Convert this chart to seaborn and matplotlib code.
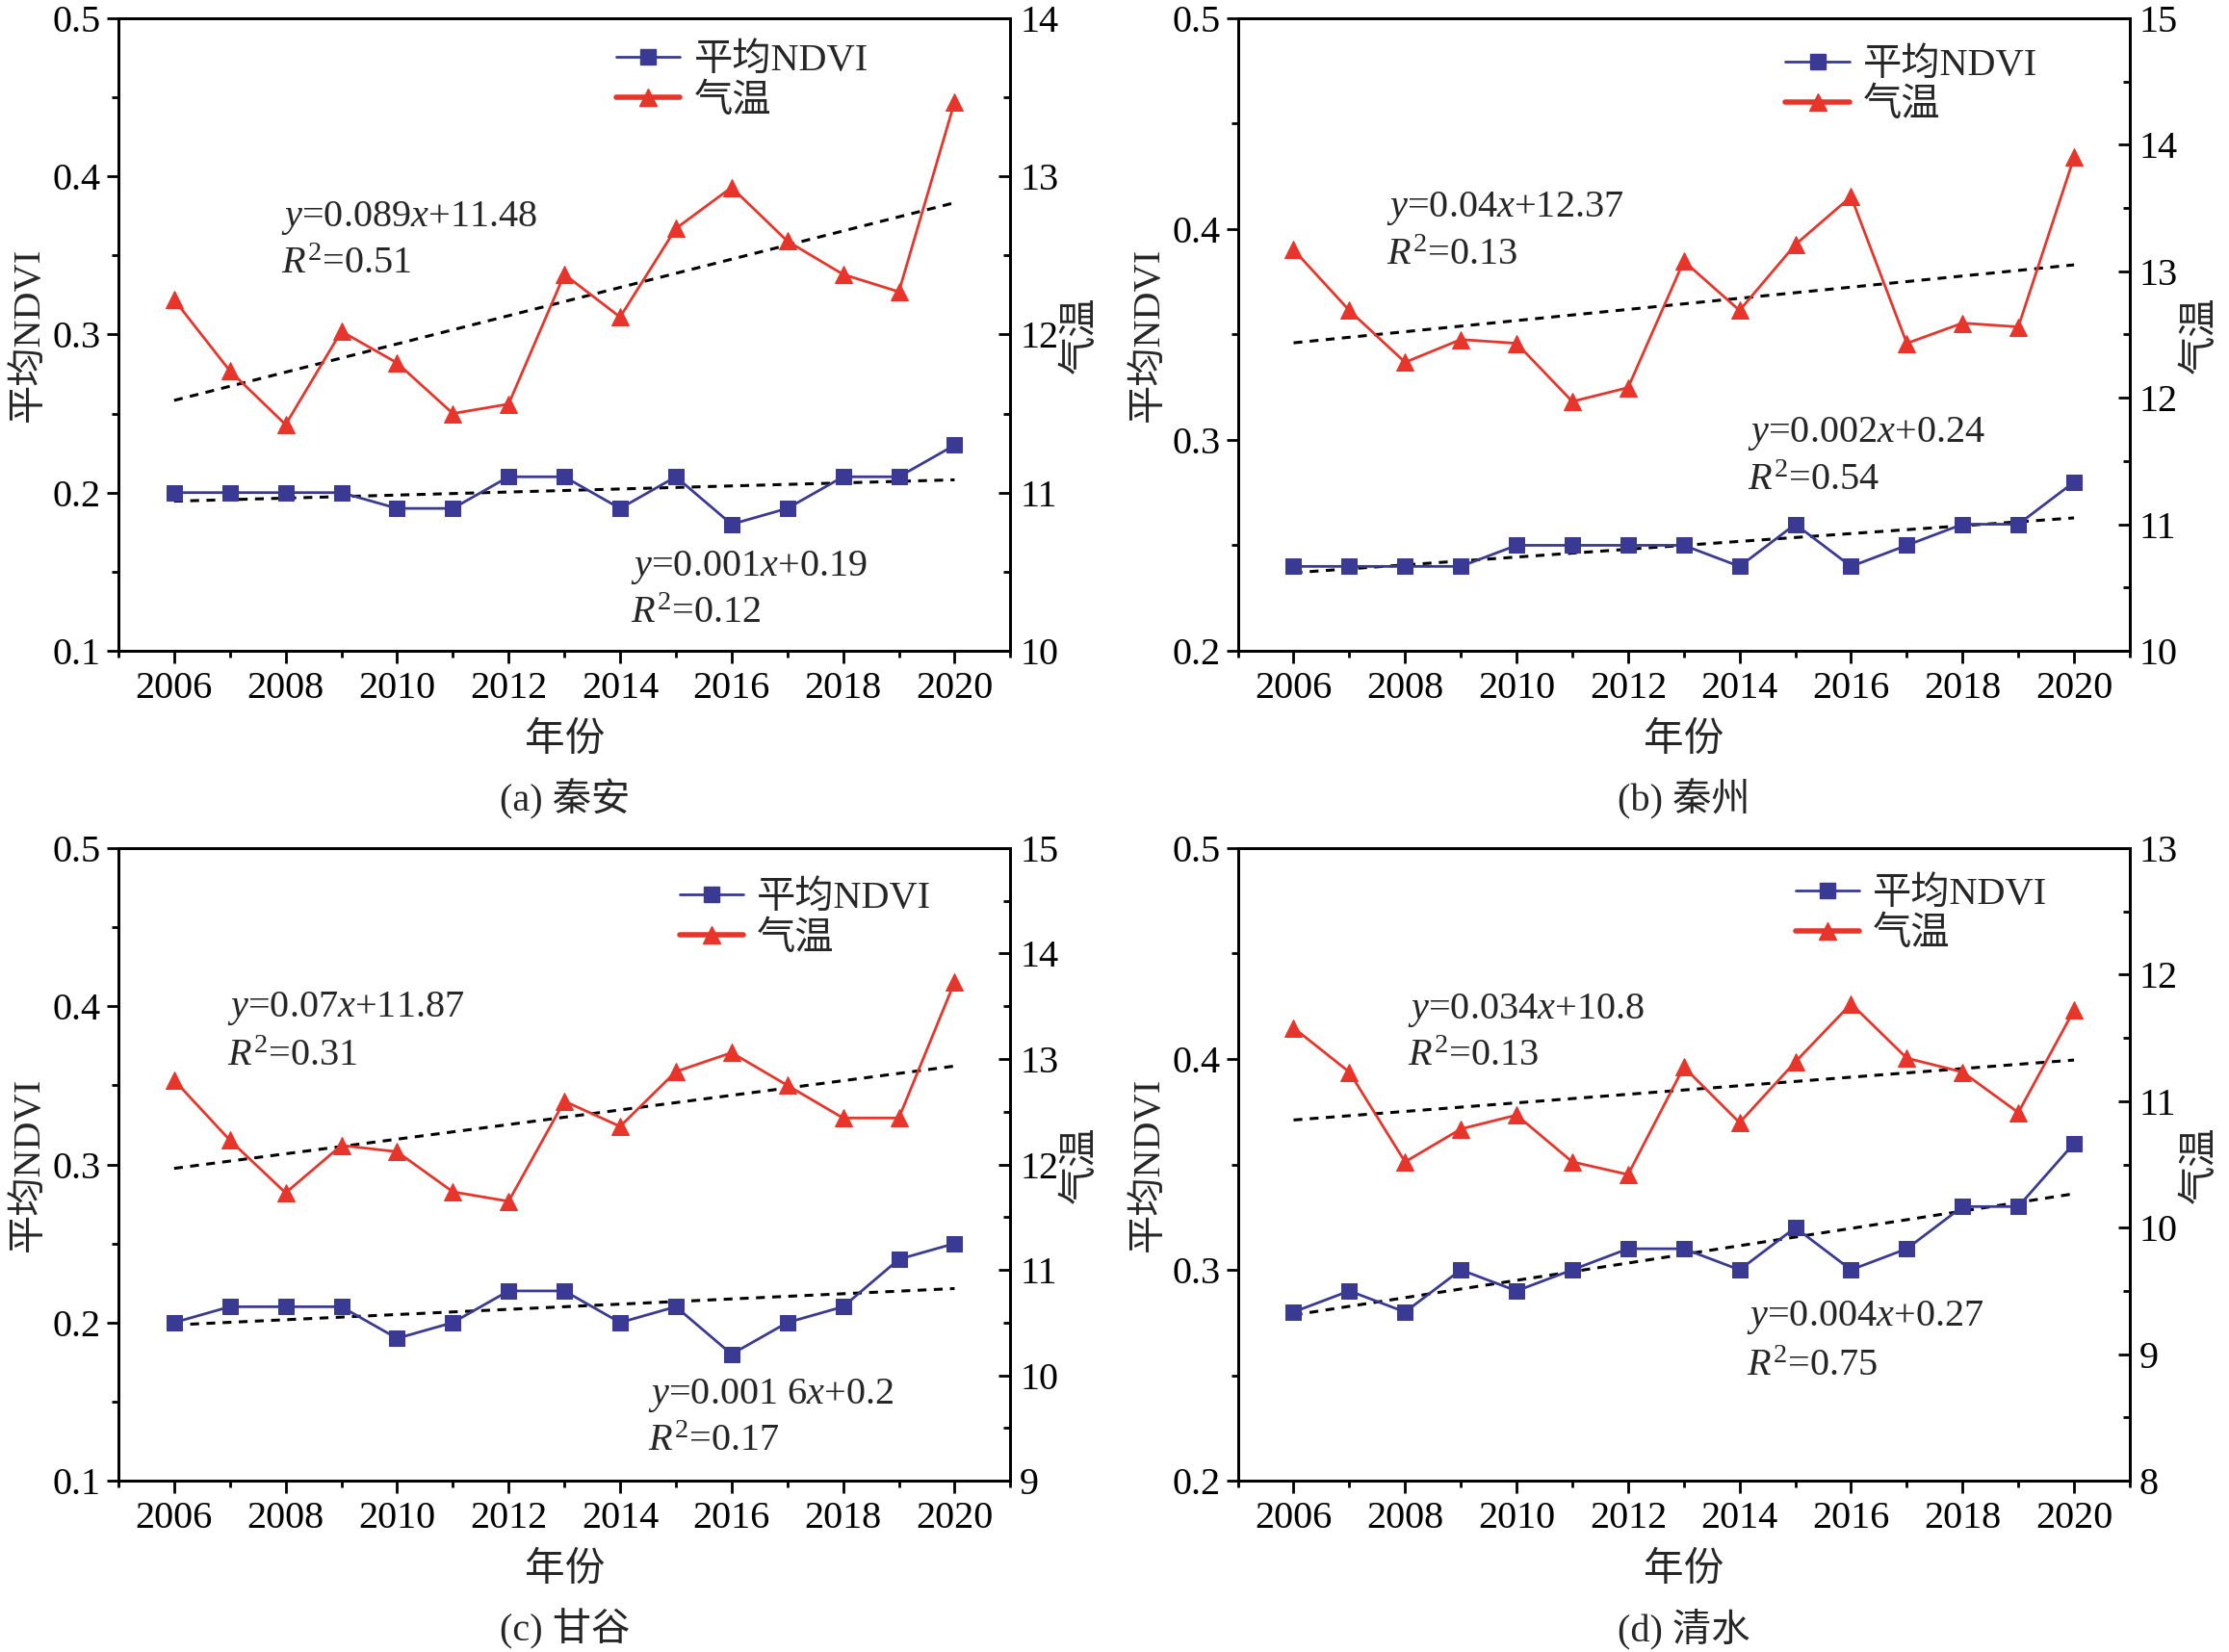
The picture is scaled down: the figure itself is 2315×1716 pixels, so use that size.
import numpy as np
import matplotlib
matplotlib.use("Agg")
import matplotlib.pyplot as plt
from matplotlib.lines import Line2D
from matplotlib.ticker import MultipleLocator, FormatStrFormatter
import seaborn as sns

# ---------- Data ---------- #

years = list(range(2006, 2021))

ndvi_a = [0.20, 0.20, 0.20, 0.20, 0.19, 0.19, 0.21, 0.21, 0.19, 0.21, 0.18, 0.19, 0.21, 0.21, 0.23]
temp_a = [12.22, 11.77, 11.43, 12.02, 11.82, 11.50, 11.56, 12.38, 12.11, 12.67, 12.93, 12.59, 12.38, 12.27, 13.47]

ndvi_b = [0.24, 0.24, 0.24, 0.24, 0.25, 0.25, 0.25, 0.25, 0.24, 0.26, 0.24, 0.25, 0.26, 0.26, 0.28]
temp_b = [13.17, 12.69, 12.28, 12.46, 12.43, 11.97, 12.08, 13.08, 12.69, 13.21, 13.59, 12.43, 12.59, 12.56, 13.90]

ndvi_c = [0.20, 0.21, 0.21, 0.21, 0.19, 0.20, 0.22, 0.22, 0.20, 0.21, 0.18, 0.20, 0.21, 0.24, 0.25]
temp_c = [12.80, 12.23, 11.73, 12.18, 12.12, 11.74, 11.65, 12.60, 12.36, 12.88, 13.06, 12.75, 12.44, 12.44, 13.73]

ndvi_d = [0.28, 0.29, 0.28, 0.30, 0.29, 0.30, 0.31, 0.31, 0.30, 0.32, 0.30, 0.31, 0.33, 0.33, 0.36]
temp_d = [11.58, 11.23, 10.52, 10.78, 10.89, 10.52, 10.42, 11.27, 10.83, 11.31, 11.77, 11.34, 11.23, 10.91, 11.72]

captions = ["(a) 秦安", "(b) 秦州", "(c) 甘谷", "(d) 清水"]
ndvi_lims = [(0.1, 0.5), (0.2, 0.5), (0.1, 0.5), (0.2, 0.5)]
temp_lims = [(10, 14), (10, 15), (9, 15), (8, 13)]

temp_eq = [("0.089", "11.48", "0.51"), ("0.04", "12.37", "0.13"),
           ("0.07", "11.87", "0.31"), ("0.034", "10.8", "0.13")]
ndvi_eq = [("0.001", "0.19", "0.12"), ("0.002", "0.24", "0.54"),
           ("0.001 6", "0.2", "0.17"), ("0.004", "0.27", "0.75")]

# text / legend positions (axes fraction)
temp_eq_pos = [(0.182, 0.684, 0.611), (0.167, 0.700, 0.625), (0.122, 0.746, 0.670), (0.190, 0.744, 0.670)]
ndvi_eq_pos = [(0.574, 0.132, 0.059), (0.572, 0.343, 0.268), (0.594, 0.135, 0.062), (0.570, 0.258, 0.181)]
legend_pos = [(0.558, 0.960), (0.614, 0.953), (0.629, 0.948), (0.625, 0.955)]

ndvi_all = [ndvi_a, ndvi_b, ndvi_c, ndvi_d]
temp_all = [temp_a, temp_b, temp_c, temp_d]

# ---------- Style ---------- #

sns.set_theme(style="ticks")
plt.rcParams['font.family'] = ['Liberation Serif', 'Noto Sans CJK SC']
plt.rcParams['mathtext.fontset'] = 'custom'
plt.rcParams['mathtext.rm'] = 'Liberation Serif'
plt.rcParams['mathtext.it'] = 'Liberation Serif:italic'
plt.rcParams['axes.edgecolor'] = 'black'
plt.rcParams['axes.linewidth'] = 2.0
plt.rcParams['xtick.color'] = 'black'
plt.rcParams['ytick.color'] = 'black'

blue = "#3a3a94"
red = "#e8352b"

fig, axes = plt.subplots(2, 2, figsize=(23.15, 17.16), dpi=100)
plt.subplots_adjust(left=0.0531, right=0.9555, bottom=0.1037, top=0.989, wspace=0.255, hspace=0.312)

for i, ax in enumerate(axes.ravel()):
    ax2 = ax.twinx()

    sns.lineplot(x=years, y=ndvi_all[i], ax=ax, color=blue, lw=2, marker='s',
                 markersize=11, markeredgecolor=blue, zorder=3)
    sns.regplot(x=years, y=ndvi_all[i], ax=ax, scatter=False, ci=None, color='black',
                line_kws=dict(ls=(0, (3, 2.5)), lw=2.2), truncate=True)

    sns.lineplot(x=years, y=temp_all[i], ax=ax2, color=red, lw=2, marker='^',
                 markersize=13, markeredgecolor=red, zorder=3)
    sns.regplot(x=years, y=temp_all[i], ax=ax2, scatter=False, ci=None, color='black',
                line_kws=dict(ls=(0, (3, 2.5)), lw=2.2), truncate=True)

    ax.set_xlim(2005, 2021)
    ax.set_ylim(*ndvi_lims[i])
    ax2.set_ylim(*temp_lims[i])

    ax.xaxis.set_major_locator(MultipleLocator(2))
    ax.xaxis.set_minor_locator(MultipleLocator(1))
    ax.yaxis.set_major_locator(MultipleLocator(0.1))
    ax.yaxis.set_minor_locator(MultipleLocator(0.05))
    ax.yaxis.set_major_formatter(FormatStrFormatter('%.1f'))
    ax2.yaxis.set_major_locator(MultipleLocator(1))
    ax2.yaxis.set_minor_locator(MultipleLocator(0.5))

    ax.tick_params(axis='x', which='major', direction='out', length=9, width=2, labelsize=29, pad=6)
    ax.tick_params(axis='x', which='minor', direction='out', length=5, width=2)
    ax.tick_params(axis='y', which='major', direction='out', length=9, width=2, labelsize=29, pad=4)
    ax.tick_params(axis='y', which='minor', direction='out', length=5, width=2)
    ax2.tick_params(axis='y', which='major', direction='in', length=9, width=2, labelsize=29, pad=7)
    ax2.tick_params(axis='y', which='minor', direction='in', length=5, width=2)
    for sp in ax2.spines.values():
        sp.set_linewidth(2)

    ax.set_xlabel("年份", fontsize=30, labelpad=12)
    ax.set_ylabel("平均NDVI", fontsize=29, labelpad=4)
    ax2.set_ylabel("气温", fontsize=29, labelpad=4)

    ax.text(0.5, -0.234, captions[i], transform=ax.transAxes, ha='center', va='center', fontsize=29)

    # regression equations
    s, b, r2 = temp_eq[i]
    x0, y1, y2 = temp_eq_pos[i]
    ax2.text(x0, y1, r"$\it{y}$=" + s + r"$\it{x}$+" + b, transform=ax.transAxes,
             ha='left', va='center', fontsize=29)
    ax2.text(x0, y2, r"$\it{R}^{\rm 2}$=" + r2, transform=ax.transAxes,
             ha='left', va='center', fontsize=29)
    s, b, r2 = ndvi_eq[i]
    x0, y1, y2 = ndvi_eq_pos[i]
    ax2.text(x0, y1, r"$\it{y}$=" + s + r"$\it{x}$+" + b, transform=ax.transAxes,
             ha='left', va='center', fontsize=29)
    ax2.text(x0, y2, r"$\it{R}^{\rm 2}$=" + r2, transform=ax.transAxes,
             ha='left', va='center', fontsize=29)

    handles = [Line2D([], [], color=blue, lw=2, marker='s', markersize=11),
               Line2D([], [], color=red, lw=4, marker='^', markersize=13)]
    ax2.legend(handles, ["平均NDVI", "气温"], loc='upper left', bbox_to_anchor=legend_pos[i],
               bbox_transform=ax.transAxes, frameon=False, fontsize=29, borderpad=0,
               borderaxespad=0, handlelength=1.65, handletextpad=0.35, labelspacing=0.12)

fig.savefig("out.png", dpi=100)
plt.close()
